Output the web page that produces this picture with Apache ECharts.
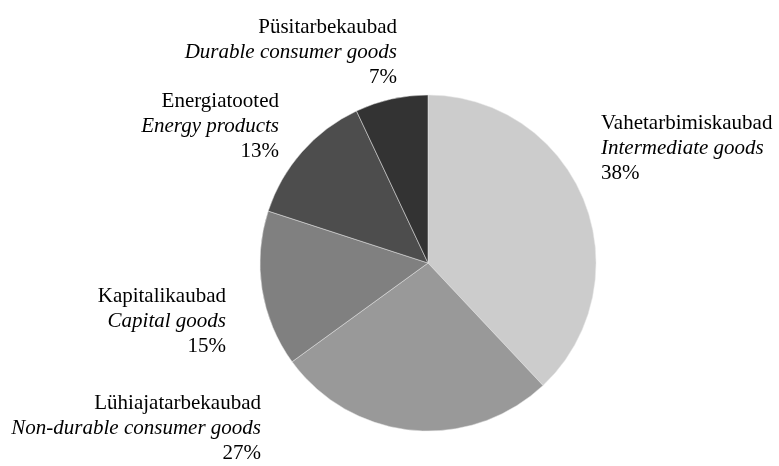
<!DOCTYPE html>
<html>
<head>
<meta charset="utf-8">
<script src="https://cdn.jsdelivr.net/npm/echarts@6/dist/echarts.min.js"></script>
<style>
  html, body { margin: 0; padding: 0; background: #fff; }
  #main { width: 779px; height: 466px; }
</style>
</head>
<body>
<div id="main"></div>
<script>
// kategooriad (eesti / inglise) ja osakaalud %
var namesEt = ['Vahetarbimiskaubad', 'Lühiajatarbekaubad', 'Kapitalikaubad', 'Energiatooted', 'Püsitarbekaubad'];
var namesEn = ['Intermediate goods', 'Non-durable consumer goods', 'Capital goods', 'Energy products', 'Durable consumer goods'];
var shares = [38, 27, 15, 13, 7];
var sliceColors = ['#cccccc', '#999999', '#808080', '#4d4d4d', '#333333'];

// label anchor spots (x, y, align)
var labelSpots = [
    [601, 148, 'left'],
    [261, 428, 'right'],
    [226, 321, 'right'],
    [279, 126, 'right'],
    [397, 52, 'right']
];

var data = [];
for (var i = 0; i < shares.length; i++) {
    data.push({
        value: shares[i],
        name: namesEt[i],
        itemStyle: { color: sliceColors[i] }
    });
}

var myChart = echarts.init(document.getElementById('main'));
var option = {
    backgroundColor: '#ffffff',
    animation: false,
    series: [{
        type: 'pie',
        center: [428, 263],
        radius: 168,
        startAngle: 90,
        clockwise: true,
        data: data,
        itemStyle: { borderColor: '#e6e6e6', borderWidth: 0.5 },
        labelLine: { show: false },
        label: {
            show: true,
            position: 'outside',
            overflow: 'none',
            formatter: function (p) {
                return '{a|' + p.name + '}\n{b|' + namesEn[p.dataIndex] + '}\n{a|' + p.value + '%}';
            },
            rich: {
                a: { fontFamily: 'Liberation Serif', fontSize: 21, lineHeight: 25, color: '#000' },
                b: { fontFamily: 'Liberation Serif', fontSize: 21, lineHeight: 25, color: '#000', fontStyle: 'italic' }
            }
        },
        labelLayout: function (params) {
            var s = labelSpots[params.dataIndex];
            return { x: s[0], y: s[1], align: s[2], verticalAlign: 'middle' };
        }
    }]
};
myChart.setOption(option);
</script>
</body>
</html>
